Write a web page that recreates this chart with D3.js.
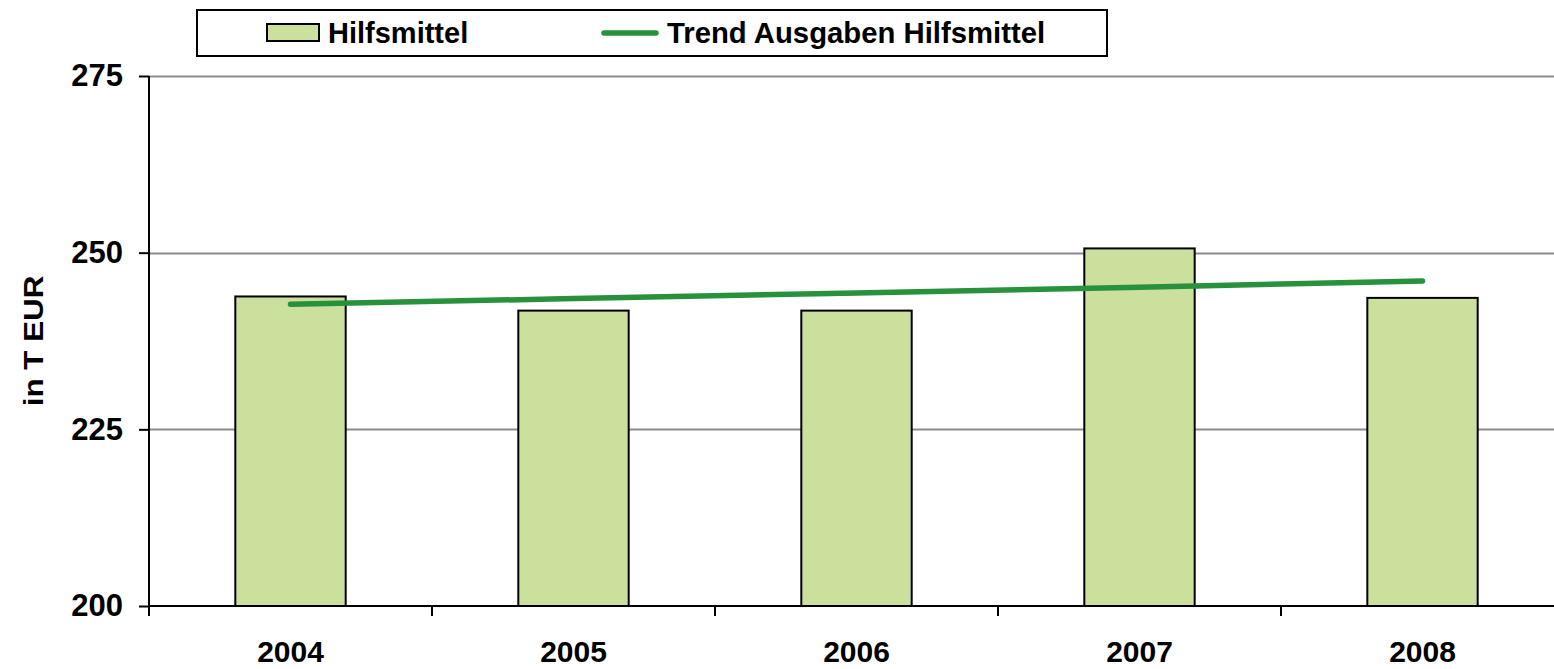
<!DOCTYPE html>
<html>
<head>
<meta charset="utf-8">
<script src="https://cdn.jsdelivr.net/npm/d3@7"></script>
<style>
  body { margin: 0; background: #fff; }
  text { font-family: "Liberation Sans", Arial, sans-serif; font-weight: bold; fill: #000; }
</style>
</head>
<body>
<script>
// chart data
var years = ["2004", "2005", "2006", "2007", "2008"];
var ausgaben = [243.8, 241.8, 241.8, 250.6, 243.6];
var trend = [242.7, 243.5, 244.3, 245.1, 246.0];
var yTicks = [200, 225, 250, 275];

var width = 1554, height = 669;
var margin = {top: 76, left: 149, bottom: 63};

var svg = d3.select("body").append("svg")
    .attr("width", width)
    .attr("height", height);

// category step ~283px, the last band runs past the window edge
var x = d3.scaleBand()
    .domain(years)
    .range([margin.left, margin.left + 5 * 283])
    .padding(0);

var y = d3.scaleLinear()
    .domain([200, 275])
    .range([height - margin.bottom, margin.top]);

var barW = x.bandwidth() * 0.39;

// gridlines
svg.append("g")
    .selectAll("line")
    .data(yTicks.filter(function(d) { return d > 200; }))
    .enter()
    .append("line")
    .attr("x1", margin.left)
    .attr("x2", width)
    .attr("y1", function(d) { return Math.round(y(d)) + 0.5; })
    .attr("y2", function(d) { return Math.round(y(d)) + 0.5; })
    .style("stroke", "#8c8c8c")
    .style("stroke-width", 2);

// bars
svg.append("g")
    .selectAll("rect")
    .data(ausgaben)
    .enter()
    .append("rect")
    .attr("x", function(d, i) { return x(years[i]) + x.bandwidth() / 2 - barW / 2; })
    .attr("y", function(d) { return y(d); })
    .attr("width", barW)
    .attr("height", function(d) { return y(200) - y(d); })
    .style("fill", "#cae09c")
    .style("stroke", "#000")
    .style("stroke-width", 2);

// trend line
var line = d3.line()
    .x(function(d, i) { return x(years[i]) + x.bandwidth() / 2; })
    .y(function(d) { return y(d); });

svg.append("path")
    .datum(trend)
    .attr("d", line)
    .style("fill", "none")
    .style("stroke", "#27913c")
    .style("stroke-width", 5.5)
    .style("stroke-linecap", "round");

// y axis
var yAxis = svg.append("g")
    .attr("transform", "translate(" + margin.left + ",0)")
    .call(d3.axisLeft(y).tickValues(yTicks).tickSize(10).tickPadding(16));
yAxis.select(".domain").attr("d", "M0," + y(275) + "V" + y(200)).style("stroke-width", 2);
yAxis.selectAll(".tick line").style("stroke-width", 2);
yAxis.selectAll(".tick text").style("font-size", "31px").style("font-family", "Liberation Sans, Arial").style("font-weight", "bold");

// x axis
var xAxisG = svg.append("g")
    .attr("transform", "translate(0," + y(200) + ")");
xAxisG.append("line")
    .attr("x1", margin.left).attr("x2", width)
    .attr("y1", 0).attr("y2", 0)
    .style("stroke", "#000").style("stroke-width", 2);
xAxisG.selectAll(".xtick")
    .data(years)
    .enter()
    .append("line")
    .attr("x1", function(d) { return x(d); })
    .attr("x2", function(d) { return x(d); })
    .attr("y1", 0).attr("y2", 10)
    .style("stroke", "#000").style("stroke-width", 2);
xAxisG.selectAll(".xlab")
    .data(years)
    .enter()
    .append("text")
    .attr("x", function(d) { return x(d) + x.bandwidth() / 2; })
    .attr("y", 56)
    .attr("text-anchor", "middle")
    .style("font-size", "30px")
    .text(function(d) { return d; });

// y axis title
svg.append("text")
    .attr("transform", "translate(43,341) rotate(-90) scale(1.12,1)")
    .attr("text-anchor", "middle")
    .style("font-size", "28px")
    .text("in T EUR");

// legend
var legend = svg.append("g");
legend.append("rect")
    .attr("x", 197).attr("y", 10)
    .attr("width", 910).attr("height", 46)
    .style("fill", "#fff").style("stroke", "#000").style("stroke-width", 2);
legend.append("rect")
    .attr("x", 267).attr("y", 24)
    .attr("width", 52).attr("height", 17)
    .style("fill", "#cae09c").style("stroke", "#000").style("stroke-width", 2);
legend.append("text")
    .attr("x", 328).attr("y", 43)
    .style("font-size", "29px")
    .text("Hilfsmittel");
legend.append("line")
    .attr("x1", 604).attr("x2", 656)
    .attr("y1", 33).attr("y2", 33)
    .style("stroke", "#27913c").style("stroke-width", 5.5)
    .style("stroke-linecap", "round");
legend.append("text")
    .attr("x", 667).attr("y", 43)
    .style("font-size", "29.3px")
    .text("Trend Ausgaben Hilfsmittel");
</script>
</body>
</html>
